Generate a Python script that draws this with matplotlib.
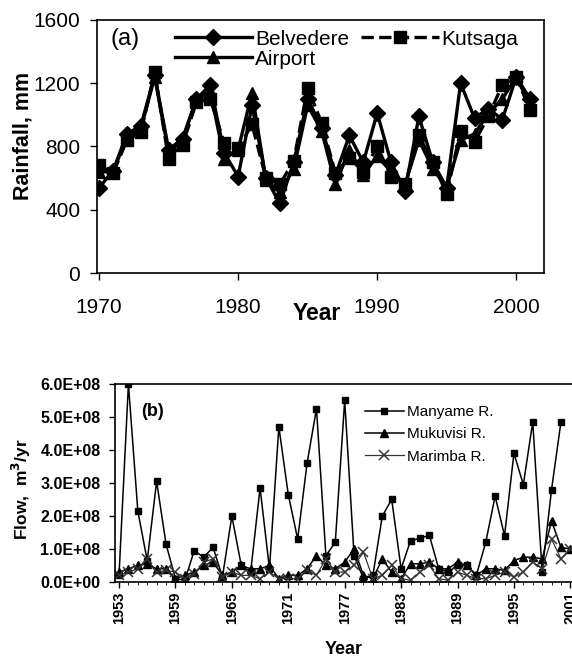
import numpy as np
import matplotlib
matplotlib.use("Agg")
import matplotlib.pyplot as plt
from matplotlib.ticker import FuncFormatter, MultipleLocator

plt.rcParams['font.family'] = ['Liberation Sans', 'DejaVu Sans']

# ---- panel (a): annual rainfall ----
years_a = list(range(1970, 2002))
belvedere = [540, 645, 880, 930, 1250, 780, 850, 1100, 1190, 760, 610, 1060, 600, 440,
             700, 1100, 920, 620, 870, 700, 1010, 700, 520, 990, 700, 540, 1200, 980,
             1040, 970, 1240, 1100]
kutsaga = [680, 630, 840, 890, 1270, 720, 810, 1080, 1100, 820, 790, 940, 600, 560,
           710, 1170, 950, 630, 730, 640, 800, 610, 560, 870, 700, 500, 900, 830,
           990, 1190, 1240, 1030]
airport = [640, 640, 860, 910, 1240, 760, 840, 1100, 1150, 720, 780, 1140, 590, 510,
           660, 1060, 900, 560, 780, 620, 740, 640, 560, 840, 660, 540, 840, 880,
           1010, 1100, 1240, 1060]

# ---- panel (b): annual river flow (x 1e8 m3/yr) ----
years_b = list(range(1953, 2002))
manyame = [0.2, 6.0, 2.15, 0.65, 3.05, 1.15, 0.1, 0.05, 0.95, 0.75, 1.05, 0.15, 2.0, 0.5,
           0.3, 2.85, 0.4, 4.7, 2.65, 1.3, 3.6, 5.25, 0.8, 1.2, 5.5, 0.8, 0.1, 0.2,
           2.0, 2.5, 0.4, 1.25, 1.32, 1.42, 0.4, 0.3, 0.5, 0.5, 0.2, 1.2, 2.6, 1.4,
           3.9, 2.95, 4.85, 0.3, 2.8, 4.85, np.nan]
mukuvisi = [0.3, 0.4, 0.5, 0.55, 0.4, 0.4, 0.1, 0.2, 0.3, 0.5, 0.6, 0.2, 0.3, 0.5,
            0.4, 0.4, 0.5, 0.1, 0.2, 0.2, 0.4, 0.8, 0.5, 0.4, 0.6, 1.0, 0.2, 0.1,
            0.7, 0.3, 0.1, 0.55, 0.55, 0.6, 0.4, 0.4, 0.6, 0.5, 0.2, 0.4, 0.4, 0.35,
            0.65, 0.75, 0.75, 0.7, 1.85, 1.05, 1.0]
marimba = [0.2, 0.3, 0.4, 0.7, 0.3, 0.35, 0.3, 0.1, 0.25, 0.6, 0.7, 0.15, 0.3, 0.2,
           0.2, 0.1, 0.3, 0.1, 0.1, 0.1, 0.35, 0.2, 0.7, 0.3, 0.3, 0.5, 0.9, 0.1,
           0.2, 0.5, 0.1, 0.05, 0.3, 0.5, 0.1, 0.05, 0.3, 0.2, 0.1, 0.1, 0.2, 0.3,
           0.15, 0.3, 0.6, 0.4, 1.3, 0.7, 1.0]

fig = plt.figure(figsize=(5.72, 6.59), dpi=100)

# panel (a)
ax1 = fig.add_axes([0.1696, 0.5857, 0.7815, 0.384])
ax1.plot(years_a, belvedere, color='black', lw=2.4, marker='D', ms=8, label='Belvedere')
ax1.plot(years_a, airport, color='black', lw=2.4, marker='^', ms=9, label='Airport')
ax1.plot(years_a, kutsaga, color='black', lw=2.4, ls='--', marker='s', ms=9, label='Kutsaga')
ax1.set_xlim(1969.85, 2002.0)
ax1.set_ylim(0, 1600)
ax1.set_xticks([1970, 1980, 1990, 2000])
ax1.set_yticks([0, 400, 800, 1200, 1600])
ax1.tick_params(labelsize=15, direction='out', length=5, width=1)
ax1.tick_params(axis='x', pad=13)
ax1.tick_params(axis='y', pad=7)
ax1.text(-0.165, 0.54, 'Rainfall, mm', transform=ax1.transAxes, fontsize=15.5,
         fontweight='bold', rotation=90, ha='center', va='center')
ax1.text(0.492, -0.159, 'Year', transform=ax1.transAxes, fontsize=16.5,
         fontweight='bold', ha='center', va='center')
ax1.text(0.03, 0.925, '(a)', transform=ax1.transAxes, fontsize=17, va='center')
ax1.legend(loc='upper left', bbox_to_anchor=(0.155, 0.995), ncol=2, frameon=False,
           fontsize=15, handlelength=3.7, handletextpad=0.15, columnspacing=0.6,
           labelspacing=0.05, borderaxespad=0)
for s in ax1.spines.values():
    s.set_linewidth(1.2)

# panel (b)
ax2 = fig.add_axes([0.201, 0.1169, 0.829, 0.3004])
ax2.plot(years_b, manyame, color='black', lw=1.1, marker='s', ms=5, label='Manyame R.')
ax2.plot(years_b, mukuvisi, color='black', lw=1.1, marker='^', ms=5.5, label='Mukuvisi R.')
ax2.plot(years_b, marimba, color='#333333', lw=0.9, marker='x', ms=7, mew=1.1,
         label='Marimba R.')
ax2.set_xlim(1952.57, 2003.0)
ax2.set_ylim(0, 6.0)
ax2.set_xticks(list(range(1953, 2002, 6)))
ax2.xaxis.set_minor_locator(MultipleLocator(1))
ax2.set_yticks(np.arange(0, 6.01, 1.0))
ax2.yaxis.set_major_formatter(FuncFormatter(lambda v, p: '%.1fE+%s' % (v, '08' if v > 0 else '00')))
ax2.tick_params(direction='out', length=4, width=1)
ax2.tick_params(axis='y', labelsize=11.5, pad=6.5)
ax2.tick_params(axis='x', which='minor', length=2)
ax2.tick_params(axis='x', labelsize=10.5, labelrotation=90, pad=3)
for lbl in ax2.get_xticklabels() + ax2.get_yticklabels():
    lbl.set_fontweight('bold')
ax2.text(-0.197, 0.47, 'Flow,  m$^\\mathbf{3}$/yr', transform=ax2.transAxes,
         fontsize=12.5, fontweight='bold', rotation=90, ha='center', va='center')
ax2.text(0.483, -0.343, 'Year', transform=ax2.transAxes, fontsize=13,
         fontweight='bold', ha='center', va='center')
ax2.text(0.055, 0.86, '(b)', transform=ax2.transAxes, fontsize=13,
         fontweight='bold', va='center')
leg = ax2.legend(loc='upper left', bbox_to_anchor=(0.52, 0.91), frameon=True,
                 fontsize=11, handlelength=2.6, handletextpad=0.2,
                 labelspacing=0.55, borderaxespad=0, borderpad=0.2)
leg.get_frame().set_facecolor('white')
leg.get_frame().set_edgecolor('none')
leg.get_frame().set_alpha(1)
for s in ax2.spines.values():
    s.set_linewidth(1.2)

fig.savefig('out.png', dpi=100)
